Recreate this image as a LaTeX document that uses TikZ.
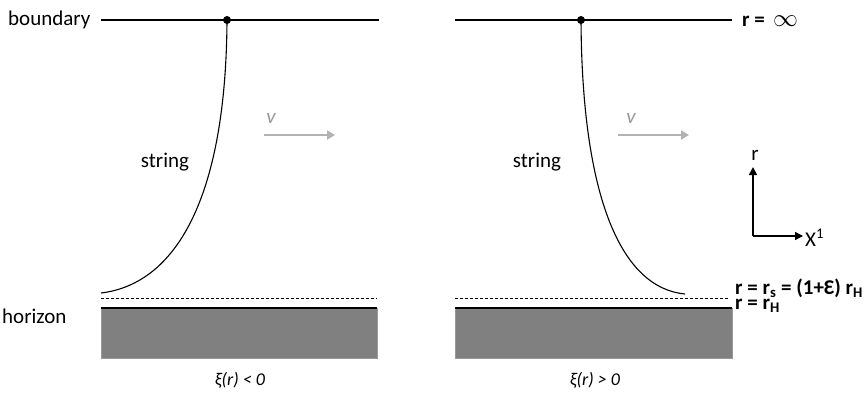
\documentclass[tikz,border=0pt]{standalone}
\usepackage{fontspec}
\setmainfont{Carlito}
\usetikzlibrary{arrows.meta}
\begin{document}
\begin{tikzpicture}[x=1pt,y=-1pt,
  lbl/.style={font=\fontsize{21}{23}\selectfont, inner sep=0pt},
  blbl/.style={font=\fontsize{21}{23}\selectfont\bfseries, inner sep=0pt, anchor=west},
  bnd/.style={line width=1.8pt},
  hor/.style={line width=2.4pt},
  dashline/.style={line width=0.7pt, dash pattern=on 3pt off 2pt},
  slab/.style={fill=black!50, draw=black!40},
  strg/.style={line width=1.1pt},
  varrow/.style={black!30, line width=2.2pt, -{Triangle[length=8pt,width=9pt]}},
  vlbl/.style={font=\fontsize{21}{23}\selectfont\itshape, text=black!40, inner sep=0pt},
  xilbl/.style={font=\fontsize{18}{20}\selectfont\itshape, inner sep=0pt},
  axis/.style={line width=1.6pt, -{Triangle[length=8pt,width=8pt]}}]
\useasboundingbox (0,0) rectangle (864,392);
% left panel
\coordinate (LB1) at (101,20); \coordinate (LB2) at (379,20);
\draw[bnd] (LB1) -- (LB2);
\node[circle, fill, inner sep=0pt, minimum size=8pt] (LD) at (227,20) {};
\coordinate (LE) at (101,293);
\draw[strg] (LD.center) .. controls (226,200) and (175,284) .. (LE);
\coordinate (LH1) at (101,298); \coordinate (LH2) at (377,298);
\draw[dashline] (LH1) -- (LH2);
\node[slab, minimum width=276pt, minimum height=50pt, inner sep=0pt, anchor=north west] (LS) at (101,308) {};
\draw[hor] (LS.north west) -- (LS.north east);
\node[lbl, anchor=west] (bd) at (8,20) {boundary};
\node[lbl, anchor=west] (hz) at (2,316) {horizon};
\node[lbl] (ls) at (165,162) {string};
\node[vlbl] (lv) at (271,118) {v};
\coordinate (LA1) at (264,135); \coordinate (LA2) at (335,135);
\draw[varrow] (LA1) -- (LA2);
\node[xilbl] (lxi) at (240,380) {ξ(r) < 0};
% right panel
\coordinate (RB1) at (455,20); \coordinate (RB2) at (732,20);
\draw[bnd] (RB1) -- (RB2);
\node[circle, fill, inner sep=0pt, minimum size=8pt] (RD) at (581,20) {};
\coordinate (RE) at (685,294);
\draw[strg] (RD.center) .. controls (582,200) and (622,288) .. (RE);
\coordinate (RH1) at (455,298); \coordinate (RH2) at (729,298);
\draw[dashline] (RH1) -- (RH2);
\node[slab, minimum width=277pt, minimum height=50pt, inner sep=0pt, anchor=north west] (RS) at (455,308) {};
\draw[hor] (RS.north west) -- (RS.north east);
\node[lbl] (rs) at (537,162) {string};
\node[vlbl] (rv) at (631,118) {v};
\coordinate (RA1) at (618,135); \coordinate (RA2) at (689,135);
\draw[varrow] (RA1) -- (RA2);
\node[xilbl] (rxi) at (595,380) {ξ(r) > 0};
% right labels
\node[blbl] (rinf) at (742,21) {r =\, {\fontsize{34}{34}\selectfont$\infty$}};
\coordinate (AO) at (753,236);
\coordinate (AU) at (753,167); \coordinate (AR) at (803,236);
\draw[axis] (AO) -- (AU);
\draw[axis] (AO) -- (AR);
\node[lbl] (ar) at (755,155) {r};
\node[lbl, anchor=west] (ax) at (805,238) {X\textsuperscript{1}};
\node[font=\fontsize{21}{15}\selectfont\bfseries, inner sep=0pt, anchor=base west, align=left] (rsl) at (735,309)
  {r = r\textsubscript{s} = (1+Ɛ) r\textsubscript{H}\\ r = r\textsubscript{H}};
\end{tikzpicture}
\end{document}
